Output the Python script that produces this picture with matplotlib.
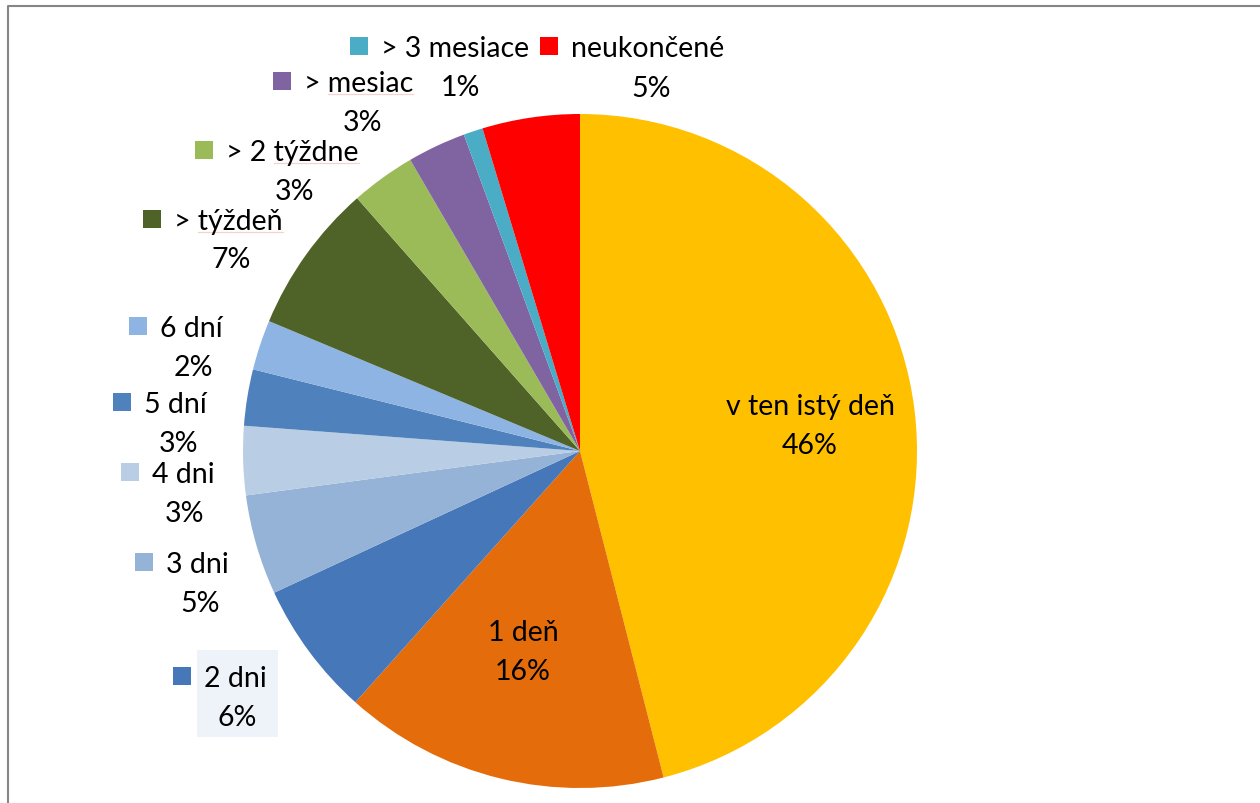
import matplotlib
matplotlib.use("Agg")
import matplotlib.pyplot as plt
from matplotlib.patches import Rectangle

plt.rcParams["font.family"] = ["Lato", "DejaVu Sans"]

# ====================== DATA ======================
categories = ["v ten istý deň", "1 deň", "2 dni", "3 dni", "4 dni", "5 dní",
              "6 dní", "> týždeň", "> 2 týždne", "> mesiac", "> 3 mesiace",
              "neukončené"]
values = [46.0, 15.6, 6.48, 4.8, 3.3, 2.7, 2.4, 7.2, 3.1, 2.8, 0.93, 4.67]
colors = ["#FFC000", "#E46C0A", "#4677B8", "#95B3D7", "#B9CDE5", "#4F81BD",
          "#8EB4E3", "#4F6228", "#9BBB59", "#8064A2", "#4BACC6", "#FF0000"]
# words marked by the spell checker in the original
squiggled = ["mesiac", "týždne", "týždeň"]

# label layout in pixels: (name x, name baseline, pct centre x, pct baseline, key?)
# with a key, name x is the left edge of the key square
label_pos = [
    (811, 415, 810, 454, False),
    (523, 641, 523, 680, False),
    (173, 687, 237, 726, True),
    (135, 573, 200, 612, True),
    (121, 483, 185, 522, True),
    (113, 413, 178, 452, True),
    (129, 337, 193, 376, True),
    (143, 230, 231, 268, True),
    (195, 161, 294, 200, True),
    (273, 92, 362, 131, True),
    (350, 57, 460, 96, True),
    (540, 57, 651, 97, True),
]

W, H = 1260, 804
fig = plt.figure(figsize=(W / 100, H / 100), dpi=100)
ax = fig.add_axes([0, 0, 1, 1])

# pie, clockwise from top (y axis is flipped, so counterclock here)
ax.pie(values, colors=colors, startangle=-90, counterclock=True,
       center=(580, 452), radius=337, frame=True,
       wedgeprops=dict(linewidth=0))
ax.set_xlim(0, W)
ax.set_ylim(H, 0)
ax.axis("off")

renderer = fig.canvas.get_renderer()

total = sum(values)
fs = 20.5
key = 18
for cat, v, col, (nx, ny, px, py, has_key) in zip(categories, values, colors, label_pos):
    pct = f"{v / total * 100:.0f}%"
    if has_key:
        if cat == "2 dni":
            ax.add_patch(Rectangle((197, 651), 81, 87, facecolor="#EEF3FA",
                                   edgecolor="none", zorder=2))
        ax.add_patch(Rectangle((nx, ny - 1 - key), key, key, facecolor=col,
                               edgecolor="none", zorder=3))
        t = ax.text(nx + 31, ny, cat, fontsize=fs, ha="left", va="baseline",
                    zorder=4)
    else:
        t = ax.text(nx, ny, cat, fontsize=fs, ha="center", va="baseline",
                    zorder=4)
    ax.text(px, py, pct, fontsize=fs, ha="center", va="baseline", zorder=4)

    # faint spell-check underline
    word = cat.split()[-1]
    if word in squiggled:
        full = t.get_window_extent(renderer)
        tmp = ax.text(0, 0, word, fontsize=fs)
        ww = tmp.get_window_extent(renderer).width
        tmp.remove()
        ax.plot([full.x1 - ww, full.x1], [ny + 3, ny + 3], color="#F7D0D0",
                linewidth=0.9, zorder=3)

# chart frame
ax.plot([8, 8, W + 5], [H + 5, 7, 7], color="#868686", linewidth=1.5,
        clip_on=False)

fig.savefig("out.png", dpi=100)
